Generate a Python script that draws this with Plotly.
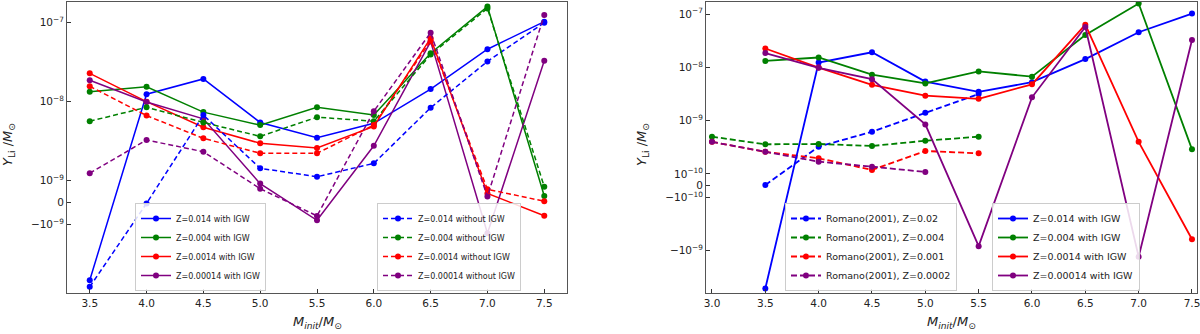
import numpy as np
import plotly.graph_objects as go

# initial masses
mass = [3.5, 4.0, 4.5, 5.0, 5.5, 6.0, 6.5, 7.0, 7.5]
mass_romano = [3.0, 3.5, 4.0, 4.5, 5.0, 5.5]

# Li yields (M_sun), with IGW
y_z014_igw = [-5.1e-9, 1.23e-8, 1.92e-8, 5.4e-9, 3.47e-9, 5.27e-9, 1.43e-8, 4.56e-8, 1.02e-7]
y_z004_igw = [1.32e-8, 1.53e-8, 7.3e-9, 5.0e-9, 8.4e-9, 6.7e-9, 4.06e-8, 1.58e-7, 2.9e-10]
y_z0014_igw = [2.26e-8, 9.9e-9, 4.7e-9, 2.94e-9, 2.57e-9, 4.8e-9, 6.3e-8, 4.0e-10, -6.1e-10]
y_z00014_igw = [1.85e-8, 9.8e-9, 6.0e-9, 8.5e-10, -8.2e-10, 2.74e-9, 5.7e-8, -1.3e-9, 3.27e-8]

# Li yields, without IGW
y_z014_no = [-6.2e-9, -5e-11, 6.7e-9, 1.42e-9, 1.11e-9, 1.64e-9, 8.3e-9, 3.2e-8, 9.9e-8]
y_z004_no = [5.6e-9, 8.4e-9, 5.4e-9, 3.6e-9, 6.3e-9, 5.6e-9, 3.9e-8, 1.5e-7, 7.1e-10]
y_z0014_no = [1.55e-8, 6.6e-9, 3.4e-9, 2.2e-9, 2.2e-9, 5.0e-9, 5.85e-8, 5.9e-10, 5e-11]
y_z00014_no = [1.23e-9, 3.24e-9, 2.3e-9, 6.2e-10, -6.2e-10, 7.5e-9, 7.4e-8, 2.6e-10, 1.24e-7]

# Romano (2001)
y_rom_002 = [None, 5e-12, 3.25e-10, 6.2e-10, 1.41e-9, 3.16e-9]
y_rom_0004 = [5.0e-10, 3.6e-10, 3.65e-10, 3.35e-10, 4.2e-10, 5.0e-10]
y_rom_0001 = [4.0e-10, 2.6e-10, 1.97e-10, 1.19e-10, 2.7e-10, 2.44e-10]
y_rom_00002 = [4.0e-10, 2.6e-10, 1.7e-10, 1.37e-10, 1.09e-10, None]

colors = ["blue", "green", "red", "purple"]
igw_names = ["Z=0.014 with IGW", "Z=0.004 with IGW", "Z=0.0014 with IGW", "Z=0.00014 with IGW"]
no_names = ["Z=0.014 without IGW", "Z=0.004 without IGW", "Z=0.0014 without IGW", "Z=0.00014 without IGW"]
rom_names = ["Romano(2001), Z=0.02", "Romano(2001), Z=0.004", "Romano(2001), Z=0.001", "Romano(2001), Z=0.0002"]


def symlog(vals, linthresh, lin):
    # matplotlib-like symlog, result in decades
    out = []
    for v in vals:
        if v is None:
            out.append(None)
        elif abs(v) <= linthresh:
            out.append(v / linthresh * lin)
        else:
            out.append(np.sign(v) * (lin + np.log10(abs(v) / linthresh)))
    return out


L_THR, L_LIN = 1e-9, 0.278
R_THR, R_LIN = 1e-10, 0.22

fig = go.Figure()

igw = [y_z014_igw, y_z004_igw, y_z0014_igw, y_z00014_igw]
noigw = [y_z014_no, y_z004_no, y_z0014_no, y_z00014_no]
rom = [y_rom_002, y_rom_0004, y_rom_0001, y_rom_00002]

for ys, c, n in zip(igw, colors, igw_names):
    fig.add_trace(go.Scatter(x=mass, y=symlog(ys, L_THR, L_LIN), name=n, mode="lines+markers",
                             line=dict(color=c, width=1.5), marker=dict(size=6, color=c),
                             xaxis="x", yaxis="y", legend="legend"))
for ys, c, n in zip(noigw, colors, no_names):
    fig.add_trace(go.Scatter(x=mass, y=symlog(ys, L_THR, L_LIN), name=n, mode="lines+markers",
                             line=dict(color=c, width=1.5, dash="5px,3px"), marker=dict(size=6, color=c),
                             xaxis="x", yaxis="y", legend="legend2"))
for ys, c, n in zip(rom, colors, rom_names):
    fig.add_trace(go.Scatter(x=mass_romano, y=symlog(ys, R_THR, R_LIN), name=n, mode="lines+markers",
                             line=dict(color=c, width=1.8, dash="6px,3px"), marker=dict(size=6, color=c),
                             xaxis="x2", yaxis="y2", legend="legend3", connectgaps=False))
for ys, c, n in zip(igw, colors, igw_names):
    fig.add_trace(go.Scatter(x=mass, y=symlog(ys, R_THR, R_LIN), name=n, mode="lines+markers",
                             line=dict(color=c, width=1.8), marker=dict(size=6, color=c),
                             xaxis="x2", yaxis="y2", legend="legend4"))

left_ticks = [1e-7, 1e-8, 1e-9, 0, -1e-9]
left_text = ["10<sup>−7</sup>", "10<sup>−8</sup>", "10<sup>−9</sup>", "0", "−10<sup>−9</sup>"]
right_ticks = [1e-7, 1e-8, 1e-9, 1e-10, 0, -1e-10, -1e-9]
right_text = ["10<sup>−7</sup>", "10<sup>−8</sup>", "10<sup>−9</sup>", "10<sup>−10</sup>", "0",
              "−10<sup>−10</sup>", "−10<sup>−9</sup>"]
x_ticks = [3.0, 3.5, 4.0, 4.5, 5.0, 5.5, 6.0, 6.5, 7.0, 7.5]

font = "DejaVu Sans"
axis_common = dict(showline=True, mirror=True, linecolor="#555555", linewidth=1, showgrid=False,
                   zeroline=False, ticks="inside", ticklen=4, tickcolor="#333333", automargin=False,
                   ticklabeloverflow="allow", tickfont=dict(family=font, size=10.5, color="#222222"))

ydom = [1 - 293 / 334, 1 - 2 / 334]
fig.update_layout(
    width=1200, height=334, margin=dict(l=0, r=0, t=0, b=0),
    plot_bgcolor="white", paper_bgcolor="white",
    font=dict(family=font, color="#222222"),
    xaxis=dict(domain=[67 / 1200, 567 / 1200], range=[3.3, 7.7], tickvals=x_ticks,
               ticktext=[f"{v:.1f}" for v in x_ticks], anchor="y", **axis_common),
    yaxis=dict(domain=ydom, range=[-1.148, 2.535], tickvals=symlog(left_ticks, L_THR, L_LIN),
               ticktext=left_text, anchor="x", **axis_common),
    xaxis2=dict(domain=[706 / 1200, 1197 / 1200], range=[2.944, 7.547], tickvals=x_ticks,
                ticktext=[f"{v:.1f}" for v in x_ticks], anchor="y2", **axis_common),
    yaxis2=dict(domain=ydom, range=[-2.013, 3.446], tickvals=symlog(right_ticks, R_THR, R_LIN),
                ticktext=right_text, anchor="x2", **axis_common),
)

leg_common = dict(bgcolor="rgba(255,255,255,0.85)", bordercolor="#cccccc", borderwidth=1,
                  xanchor="left", yanchor="bottom", tracegroupgap=0, itemwidth=30)
fig.update_layout(
    legend=dict(x=135 / 1200, y=1 - 291 / 334, font=dict(family=font, size=8), **leg_common),
    legend2=dict(x=377 / 1200, y=1 - 291 / 334, font=dict(family=font, size=8), **leg_common),
    legend3=dict(x=785 / 1200, y=1 - 291 / 334, font=dict(family=font, size=9.5), **leg_common),
    legend4=dict(x=992 / 1200, y=1 - 291 / 334, font=dict(family=font, size=9.5), **leg_common),
)

xt = "<i>M<sub>init</sub></i>/<i>M</i><sub>⊙</sub>"
yt = "<i>Y</i><sub>Li</sub> /<i>M</i><sub>⊙</sub>"
for cx in (317, 951):
    fig.add_annotation(text=xt, x=cx / 1200, y=1 - 322 / 334, xref="paper", yref="paper",
                       xanchor="center", yanchor="middle", showarrow=False,
                       font=dict(family=font, size=13))
for cx in (8, 642):
    fig.add_annotation(text=yt, x=cx / 1200, y=1 - 145 / 334, xref="paper", yref="paper",
                       xanchor="center", yanchor="middle", showarrow=False, textangle=-90,
                       font=dict(family=font, size=13))

# drop the default body margin so the figure sits at the window's corner
fig.write_html("out.html", config={"displayModeBar": False},
               post_script="document.body.style.margin='0';")
